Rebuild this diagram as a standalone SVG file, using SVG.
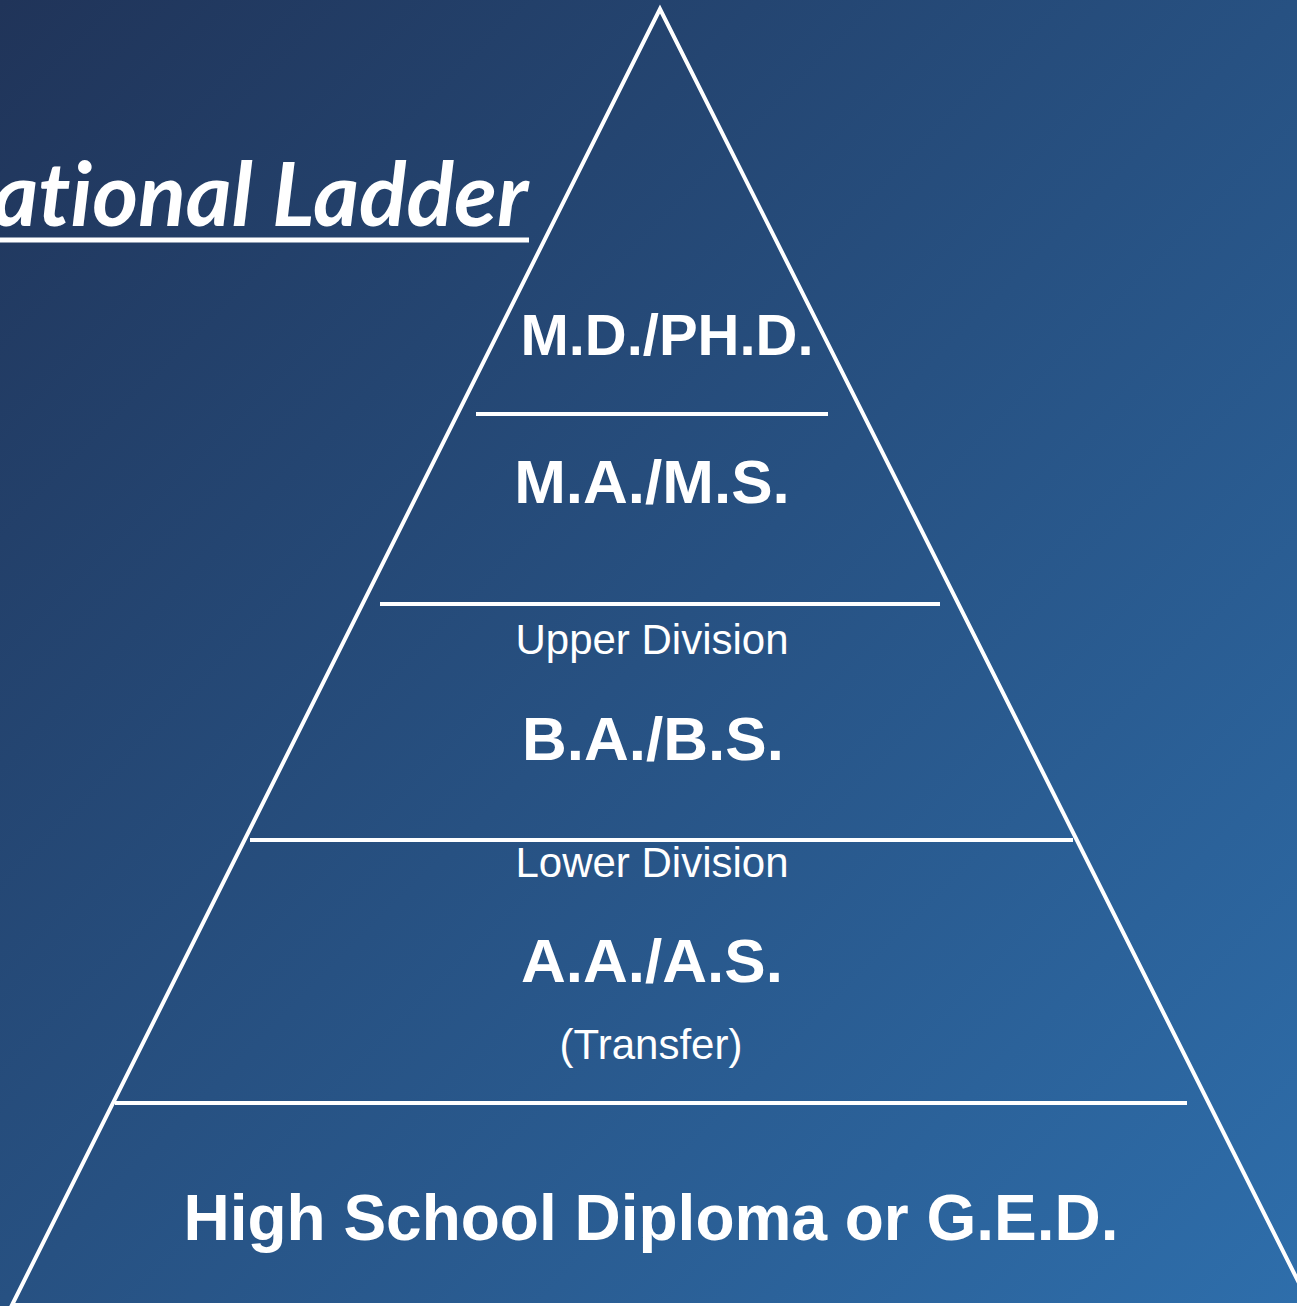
<svg xmlns="http://www.w3.org/2000/svg" width="1297" height="1306" viewBox="0 0 1297 1306">
  <defs>
    <linearGradient id="bg" x1="0" y1="0" x2="1" y2="1">
      <stop offset="0" stop-color="#203459"/>
      <stop offset="1" stop-color="#2e6eab"/>
    </linearGradient>
    <style>
      .ln { stroke: #ffffff; stroke-width: 4; fill: none; }
      .big { font-family: "Liberation Sans", Arial, sans-serif; font-weight: bold; fill: #ffffff; text-anchor: middle; }
      .small { font-family: "Liberation Sans", Arial, sans-serif; font-size: 42px; fill: #ffffff; text-anchor: middle; }
      .title { font-family: Lato, "Open Sans", sans-serif; font-weight: bold; font-style: italic; font-size: 88px; fill: #ffffff; text-anchor: end; font-variant-ligatures: none; }
    </style>
  </defs>
  <rect x="0" y="0" width="1297" height="1306" fill="url(#bg)"/>
  <g id="title">
    <text class="title" x="528" y="226">ational Ladder</text>
    <line x1="0" y1="240" x2="529" y2="240" stroke="#ffffff" stroke-width="5"/>
  </g>
  <g id="connectors">
    <polygon class="ln" points="660,9 12,1305 1310,1305"/>
    <line class="ln" x1="476" y1="414" x2="828" y2="414"/>
    <line class="ln" x1="380" y1="604" x2="940" y2="604"/>
    <line class="ln" x1="250" y1="840" x2="1073" y2="840"/>
    <line class="ln" x1="115" y1="1103" x2="1187" y2="1103"/>
  </g>
  <g id="phd">
    <text class="big" x="667" y="355" font-size="58">M.D./PH.D.</text>
  </g>
  <g id="ma">
    <text class="big" x="652" y="503" font-size="62">M.A./M.S.</text>
  </g>
  <g id="ba">
    <text class="small" x="652" y="654">Upper Division</text>
    <text class="big" x="653" y="760" font-size="62">B.A./B.S.</text>
  </g>
  <g id="aa">
    <text class="small" x="652" y="877">Lower Division</text>
    <text class="big" x="652" y="982" font-size="62">A.A./A.S.</text>
    <text class="small" x="651" y="1059">(Transfer)</text>
  </g>
  <g id="hs">
    <text class="big" x="651" y="1240" font-size="64">High School Diploma or G.E.D.</text>
  </g>
</svg>
